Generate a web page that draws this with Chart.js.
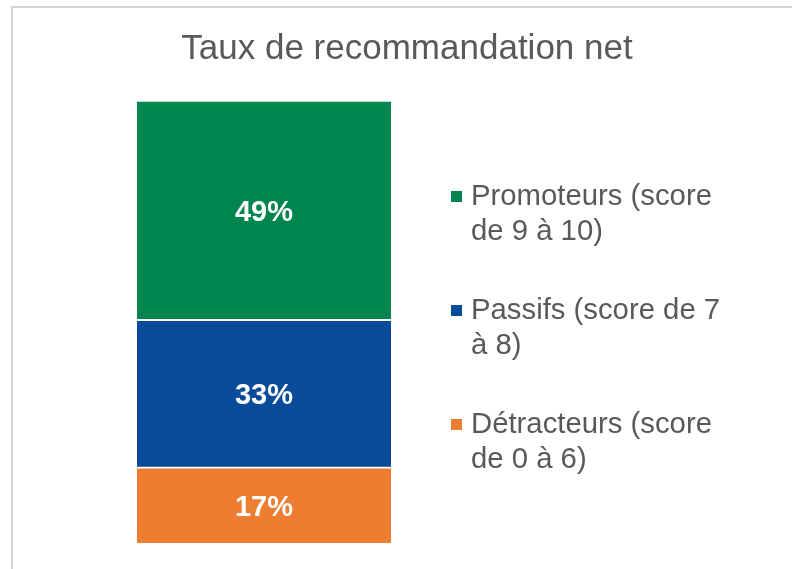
<!DOCTYPE html>
<html>
<head>
<meta charset="utf-8">
<script src="https://cdn.jsdelivr.net/npm/chart.js@4"></script>
<style>
  body { margin: 0; background: #fff; }
  #wrap { position: relative; width: 792px; height: 569px; overflow: hidden; }
  #frame { position: absolute; left: 11px; top: 6px; width: 900px; height: 700px; border: 2px solid #d4d4d4; }
  #myChart { position: absolute; left: 0; top: 0; }
</style>
</head>
<body>
<div id="wrap">
  <div id="frame"></div>
  <canvas id="myChart" width="792" height="569"></canvas>
</div>
<script>
const title = 'Taux de recommandation net';
const categories = ['NPS'];
// bottom to top
const seriesNames = [
  ['Détracteurs (score', 'de 0 à 6)'],
  ['Passifs (score de 7', 'à 8)'],
  ['Promoteurs (score', 'de 9 à 10)']
];
const seriesValues = [17, 33, 49];
const seriesColors = ['#ed7d31', '#084b98', '#00854f'];

const FONT = '"Liberation Sans", Arial, sans-serif';
const GREY = '#595959';

// white % labels in the middle of each segment
const segmentLabels = {
  id: 'segmentLabels',
  afterDatasetsDraw(chart) {
    const c = chart.ctx;
    c.save();
    c.font = 'bold 29px ' + FONT;
    c.fillStyle = '#fff';
    c.textAlign = 'center';
    c.textBaseline = 'middle';
    chart.data.datasets.forEach((ds, i) => {
      const bar = chart.getDatasetMeta(i).data[0];
      c.fillText(ds.data[0] + '%', bar.x, (bar.y + bar.base) / 2 + 3);
    });
    c.restore();
  }
};

// title + wrapped legend on the right
const sideText = {
  id: 'sideText',
  afterDraw(chart) {
    const c = chart.ctx;
    c.save();
    c.fillStyle = GREY;
    c.textBaseline = 'middle';
    c.textAlign = 'center';
    c.font = '35px ' + FONT;
    c.fillText(title, 407, 49);

    c.font = '29.3px ' + FONT;
    c.textAlign = 'left';
    const tops = [425, 311, 197];
    chart.data.datasets.forEach((ds, i) => {
      const y0 = tops[i];
      c.fillStyle = ds.backgroundColor;
      c.fillRect(451, y0 - 6, 11, 11);
      c.fillStyle = GREY;
      ds.label.forEach((line, k) => c.fillText(line, 471, y0 + k * 35));
    });
    c.restore();
  }
};

new Chart(document.getElementById('myChart'), {
  type: 'bar',
  data: {
    labels: categories,
    datasets: seriesValues.map((v, i) => ({
      label: seriesNames[i],
      data: [v],
      backgroundColor: seriesColors[i],
      borderColor: '#ffffff',
      borderWidth: { top: 2, right: 0, bottom: 0, left: 0 },
      borderSkipped: 'bottom',
      barPercentage: 1,
      categoryPercentage: 1
    }))
  },
  options: {
    responsive: false,
    animation: false,
    layout: { padding: { left: 137, right: 401, top: 100, bottom: 26 } },
    scales: {
      x: { stacked: true, display: false },
      y: { stacked: true, display: false, min: 0, max: 99 }
    },
    plugins: {
      legend: { display: false },
      title: { display: false },
      tooltip: { enabled: false }
    }
  },
  plugins: [segmentLabels, sideText]
});
</script>
</body>
</html>
